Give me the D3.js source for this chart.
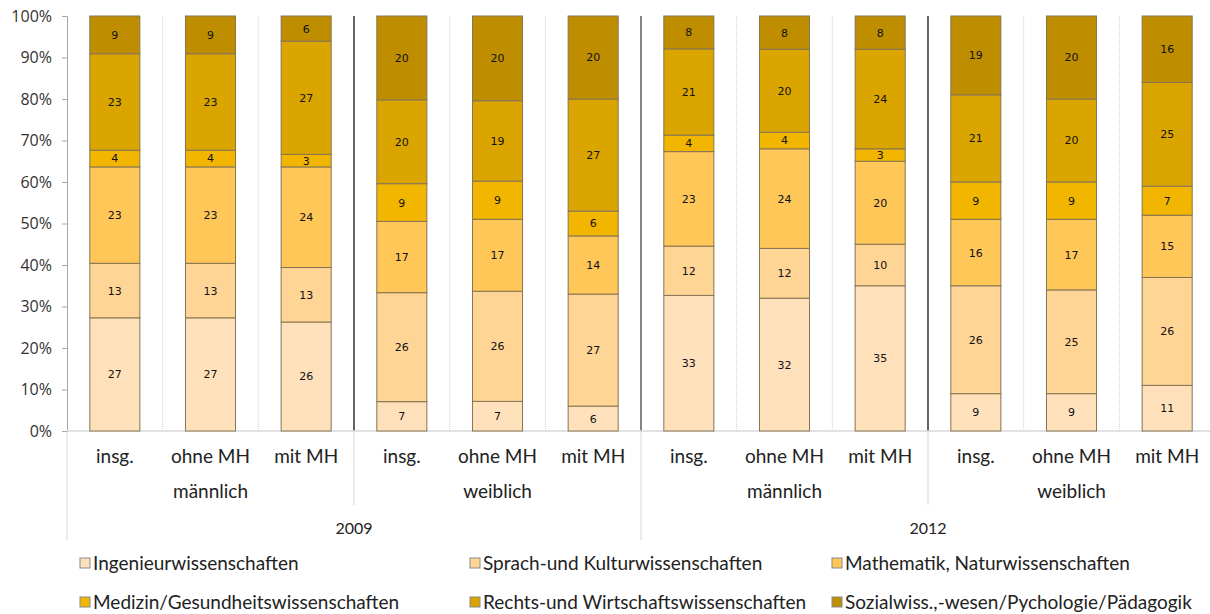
<!DOCTYPE html>
<html>
<head>
<meta charset="utf-8">
<script src="https://cdn.jsdelivr.net/npm/d3@7"></script>
<style>
  body { margin: 0; background: #fff; }
  svg { display: block; }
  .tick-lbl { font-family: "Open Sans", sans-serif; font-size: 16px; fill: #333; }
  .cat { font-family: Lato, "Open Sans", sans-serif; font-size: 19px; fill: #222; }
  .val { font-family: "DejaVu Sans", sans-serif; font-size: 11px; fill: #111; }
  .leg { font-family: Lato, "Open Sans", sans-serif; font-size: 19px; fill: #222; }
</style>
</head>
<body>
<svg id="chart_svg" width="1210" height="614"></svg>
<script>
// Data
var fields = ["Ingenieurwissenschaften", "Sprach-und Kulturwissenschaften", "Mathematik, Naturwissenschaften",
    "Medizin/Gesundheitswissenschaften", "Rechts-und Wirtschaftswissenschaften", "Sozialwiss.,-wesen/Pychologie/Pädagogik"];
var colors = ["#fee1bb", "#ffd595", "#ffc658", "#f2b600", "#dba500", "#bf8e00"];

var subgroups = ["insg.", "ohne MH", "mit MH"];
var genders = ["männlich", "weiblich"];
var years = ["2009", "2012"];

// one row per bar, values in field order (bottom to top)
var m2009 = [[27, 13, 23, 4, 23, 9], [27, 13, 23, 4, 23, 9], [26, 13, 24, 3, 27, 6]];
var w2009 = [[7, 26, 17, 9, 20, 20], [7, 26, 17, 9, 19, 20], [6, 27, 14, 6, 27, 20]];
var m2012 = [[33, 12, 23, 4, 21, 8], [32, 12, 24, 4, 20, 8], [35, 10, 20, 3, 24, 8]];
var w2012 = [[9, 26, 16, 9, 21, 19], [9, 25, 17, 9, 20, 20], [11, 26, 15, 7, 25, 16]];

var yTicks = [0, 0.1, 0.2, 0.3, 0.4, 0.5, 0.6, 0.7, 0.8, 0.9, 1];

var chart_svg = d3.select("#chart_svg");

// build bar list
var bars = [];
[[m2009, w2009], [m2012, w2012]].forEach(function(yr, yi) {
    yr.forEach(function(grp, gi) {
        grp.forEach(function(vals, si) {
            bars.push({ key: yi + "-" + gi + "-" + si, year: years[yi], gender: genders[gi], sub: subgroups[si], vals: vals });
        });
    });
});

// Scales
var xScale = d3.scaleBand()
    .domain(bars.map(function(d) { return d.key; }))
    .range([67, 1215])
    .paddingInner(0.477)
    .paddingOuter(0.2385);
var step = xScale.step();

var yScale = d3.scaleLinear().domain([0, 1]).range([431, 16]);

// Separator lines above axis
var g_sep = chart_svg.append("g");
for (var k = 1; k < 12; k++) {
    var xx = 67 + k * step;
    if (k % 3 == 0) {
        g_sep.append("line")
            .attr("x1", xx).attr("x2", xx)
            .attr("y1", yScale(1)).attr("y2", yScale(0))
            .style("stroke", k == 6 ? "#444" : "#111")
            .style("stroke-width", 1.3);
    } else {
        g_sep.append("line")
            .attr("x1", xx).attr("x2", xx)
            .attr("y1", yScale(1)).attr("y2", yScale(0))
            .style("stroke", "#d0d0d0")
            .style("stroke-width", 1)
            .style("stroke-dasharray", "1,1");
    }
}
// lines below axis (category grid)
for (var k = 0; k <= 12; k += 3) {
    var xx = 67 + k * step;
    g_sep.append("line")
        .attr("x1", xx).attr("x2", xx)
        .attr("y1", yScale(0)).attr("y2", k % 6 == 0 ? 540 : 505)
        .style("stroke", "#d6d6d6")
        .style("stroke-width", 1);
}

// Y axis
var yAxis = chart_svg.append("g")
    .attr("transform", "translate(67,0)")
    .call(d3.axisLeft(yScale).tickValues(yTicks).tickFormat(d3.format(".0%")).tickSize(5).tickPadding(10));
yAxis.select(".domain").attr("stroke", "#a6a6a6");
yAxis.selectAll(".tick line").attr("stroke", "#a6a6a6");
yAxis.selectAll(".tick text").attr("class", "tick-lbl").attr("fill", null);

// X axis line
chart_svg.append("line")
    .attr("x1", 67).attr("x2", 1215)
    .attr("y1", yScale(0)).attr("y2", yScale(0))
    .style("stroke", "#d9d9d9")
    .style("stroke-width", 1.5);

// Stacked segments
var g_bars = chart_svg.append("g");
bars.forEach(function(b) {
    var total = d3.sum(b.vals);
    var cum = 0;
    b.vals.forEach(function(v, i) {
        var y0 = cum / total, y1 = (cum + v) / total;
        cum += v;
        g_bars.append("rect")
            .attr("x", xScale(b.key))
            .attr("y", yScale(y1))
            .attr("width", xScale.bandwidth())
            .attr("height", yScale(y0) - yScale(y1))
            .style("fill", colors[i])
            .style("stroke", "#857454")
            .style("stroke-width", 1);
        g_bars.append("text")
            .attr("class", "val")
            .attr("x", xScale(b.key) + xScale.bandwidth() / 2)
            .attr("y", (yScale(y0) + yScale(y1)) / 2)
            .attr("dy", "0.36em")
            .attr("text-anchor", "middle")
            .text(v);
    });
});

// Category labels
var g_lab = chart_svg.append("g");
bars.forEach(function(b) {
    g_lab.append("text")
        .attr("class", "cat")
        .attr("x", xScale(b.key) + xScale.bandwidth() / 2)
        .attr("y", 463)
        .attr("text-anchor", "middle")
        .text(b.sub);
});
for (var i = 0; i < 4; i++) {
    g_lab.append("text")
        .attr("class", "cat")
        .attr("x", 67 + (i * 3 + 1.5) * step)
        .attr("y", 498)
        .attr("text-anchor", "middle")
        .text(genders[i % 2]);
}
years.forEach(function(yr, i) {
    g_lab.append("text")
        .attr("class", "cat")
        .style("font-size", "16px")
        .attr("x", 67 + (i * 6 + 3) * step)
        .attr("y", 534)
        .attr("text-anchor", "middle")
        .text(yr);
});

// Legend
var legX = [80, 470, 832];
var legY = [563, 602];
var g_leg = chart_svg.append("g");
fields.forEach(function(f, i) {
    var lx = legX[i % 3], ly = legY[Math.floor(i / 3)];
    g_leg.append("rect")
        .attr("x", lx).attr("y", ly - 5)
        .attr("width", 10).attr("height", 10)
        .style("fill", colors[i])
        .style("stroke", "#8a8a8a")
        .style("stroke-width", 1);
    g_leg.append("text")
        .attr("class", "leg")
        .attr("x", lx + 13)
        .attr("y", ly)
        .attr("dy", "0.35em")
        .text(f);
});
</script>
</body>
</html>
